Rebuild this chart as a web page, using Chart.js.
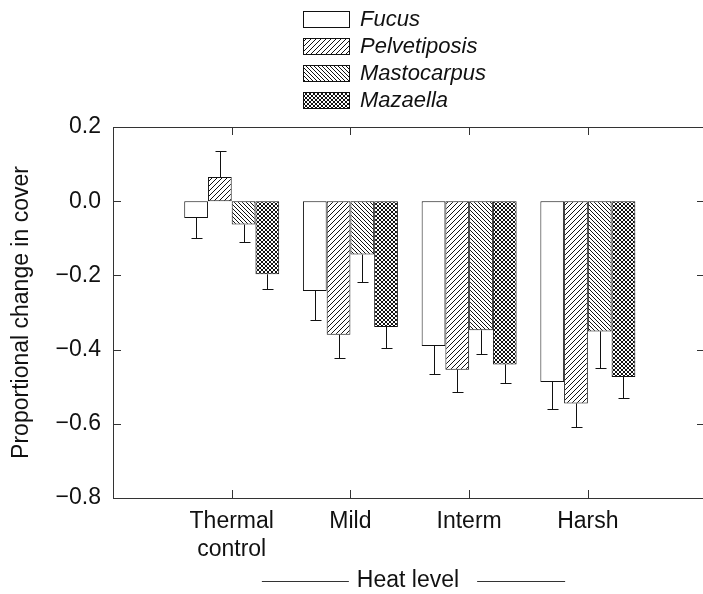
<!DOCTYPE html>
<html>
<head>
<meta charset="utf-8">
<script src="https://cdn.jsdelivr.net/npm/chart.js@4.4.1/dist/chart.umd.min.js"></script>
<style>
    html, body { margin: 0; padding: 0; background: #fff; }
    canvas { display: block; }
</style>
</head>
<body>
<canvas id="chart" width="703" height="594"></canvas>
<script>
// heat levels along the x axis
const heatLevels = [["Thermal", "control"], "Mild", "Interm", "Harsh"];
const species = ["Fucus", "Pelvetiposis", "Mastocarpus", "Mazaella"];

// proportional change in cover
const fucus        = [-0.045, -0.242, -0.390, -0.487];
const pelvetiposis = [ 0.065, -0.360, -0.454, -0.545];
const mastocarpus  = [-0.063, -0.144, -0.348, -0.351];
const mazaella     = [-0.197, -0.339, -0.440, -0.474];

// one sided error bars
const fucusErr        = [0.055, 0.079, 0.076, 0.074];
const pelvetiposisErr = [0.071, 0.062, 0.061, 0.063];
const mastocarpusErr  = [0.046, 0.074, 0.063, 0.098];
const mazaellaErr     = [0.041, 0.058, 0.049, 0.056];

const yTicks = [-0.8, -0.6, -0.4, -0.2, 0.0, 0.2];

const canvas = document.getElementById("chart");
const ctx = canvas.getContext("2d");
const ink = "#111";
const font = { family: "'Liberation Sans', Arial, sans-serif", size: 23 };

function hatch(kind, size) {
    const c = document.createElement("canvas");
    c.width = size;
    c.height = size;
    const g = c.getContext("2d");
    g.fillStyle = "#fff";
    g.fillRect(0, 0, size, size);
    g.strokeStyle = ink;
    g.lineWidth = 1;
    g.beginPath();
    if (kind == "/" || kind == "x") {
        g.moveTo(-1, size + 1); g.lineTo(size + 1, -1);
        g.moveTo(-1, 1); g.lineTo(1, -1);
        g.moveTo(size - 1, size + 1); g.lineTo(size + 1, size - 1);
    }
    if (kind == "\\" || kind == "x") {
        g.moveTo(-1, -1); g.lineTo(size + 1, size + 1);
        g.moveTo(size - 1, -1); g.lineTo(size + 1, 1);
        g.moveTo(-1, size - 1); g.lineTo(1, size + 1);
    }
    g.stroke();
    return ctx.createPattern(c, "repeat");
}

const values = [fucus, pelvetiposis, mastocarpus, mazaella];
const errors = [fucusErr, pelvetiposisErr, mastocarpusErr, mazaellaErr];
const fills = ["#fff", hatch("/", 5), hatch("\\", 4), hatch("x", 4)];

function fmt(v) {
    if (Math.abs(v) < 1e-9) return "0.0";
    return (v < 0 ? "\u2212" : "") + Math.abs(v).toFixed(1);
}

// box round the plot with inward ticks on every side
const framePlugin = {
    id: "frame",
    afterDraw(chart) {
        const { left, right, top, bottom } = chart.chartArea;
        const c = chart.ctx;
        const x = chart.scales.x, y = chart.scales.y;
        c.save();
        c.strokeStyle = "#333";
        c.lineWidth = 1;
        c.strokeRect(left + 0.5, top + 0.5, right - left, bottom - top);
        c.beginPath();
        yTicks.slice(1, -1).forEach(v => {
            const py = Math.round(y.getPixelForValue(v)) + 0.5;
            c.moveTo(left, py); c.lineTo(left + 8, py);
            c.moveTo(right, py); c.lineTo(right - 6, py);
        });
        heatLevels.forEach((_, i) => {
            const px = Math.round(x.getPixelForValue(i + 1)) + 0.5;
            c.moveTo(px, top); c.lineTo(px, top + 8);
            c.moveTo(px, bottom); c.lineTo(px, bottom - 8);
        });
        c.stroke();

        // lines either side of the x title
        c.font = "23px " + font.family;
        const w = c.measureText("Heat level").width;
        const cx = (left + right) / 2 + 4;
        const ly = 581.5;
        c.beginPath();
        c.moveTo(cx - w / 2 - 99, ly); c.lineTo(cx - w / 2 - 12, ly);
        c.moveTo(cx + w / 2 + 14, ly); c.lineTo(cx + w / 2 + 102, ly);
        c.stroke();
        c.restore();
    }
};

const errorPlugin = {
    id: "errors",
    afterDatasetsDraw(chart) {
        const c = chart.ctx;
        const y = chart.scales.y;
        c.save();
        c.strokeStyle = ink;
        c.lineWidth = 1;
        c.beginPath();
        chart.data.datasets.forEach((ds, k) => {
            chart.getDatasetMeta(k).data.forEach((bar, i) => {
                const v = ds.data[i].y;
                const end = v < 0 ? v - ds.errors[i] : v + ds.errors[i];
                const px = Math.round(bar.x) + 0.5;
                const py = Math.round(y.getPixelForValue(end)) + 0.5;
                c.moveTo(px, bar.y); c.lineTo(px, py);
                c.moveTo(px - 5, py); c.lineTo(px + 6, py);
            });
        });
        c.stroke();
        c.restore();
    }
};

const legendPlugin = {
    id: "boxLegend",
    afterDraw(chart) {
        const c = chart.ctx;
        c.save();
        chart.data.datasets.forEach((ds, k) => {
            const top = 11 + k * 27;
            c.fillStyle = ds.backgroundColor;
            c.fillRect(303, top, 46, 16);
            c.strokeStyle = ink;
            c.lineWidth = 1;
            c.strokeRect(303.5, top + 0.5, 46, 16);
            c.fillStyle = ink;
            c.font = "italic 22px " + font.family;
            c.textBaseline = "middle";
            c.fillText(ds.label, 360, top + 9);
        });
        c.restore();
    }
};

new Chart(canvas, {
    type: "bar",
    data: {
        datasets: species.map((name, k) => ({
            label: name,
            data: values[k].map((v, i) => ({ x: i + 1, y: v })),
            errors: errors[k],
            backgroundColor: fills[k],
            borderColor: ink,
            borderWidth: 1,
            borderSkipped: false,
            categoryPercentage: 0.8,
            barPercentage: 1
        }))
    },
    options: {
        responsive: false,
        animation: false,
        devicePixelRatio: 1,
        layout: { padding: { top: 127, right: 0, bottom: 0, left: 0 } },
        plugins: {
            legend: { display: false },
            tooltip: { enabled: false }
        },
        scales: {
            x: {
                type: "linear",
                min: 0,
                max: 4.97,
                offset: false,
                grid: { display: false, drawTicks: false, offset: false },
                border: { display: false },
                afterBuildTicks: scale => { scale.ticks = heatLevels.map((_, i) => ({ value: i + 1 })); },
                afterFit: scale => { scale.height = 96; },
                ticks: {
                    callback: v => heatLevels[v - 1],
                    font: font,
                    color: ink,
                    padding: 10,
                    maxRotation: 0,
                    autoSkip: false
                },
                title: {
                    display: true,
                    text: "Heat level",
                    font: font,
                    color: ink,
                    padding: { top: 0, bottom: 0 }
                }
            },
            y: {
                min: -0.8,
                max: 0.2,
                grid: { display: false, drawTicks: false },
                border: { display: false },
                afterBuildTicks: scale => { scale.ticks = yTicks.map(v => ({ value: v })); },
                afterFit: scale => { scale.width = 113; },
                ticks: {
                    callback: v => fmt(v),
                    font: font,
                    color: ink,
                    padding: 12
                },
                title: {
                    display: true,
                    text: "Proportional change in cover",
                    font: font,
                    color: ink,
                    padding: { top: 8, bottom: 0 }
                }
            }
        }
    },
    plugins: [errorPlugin, framePlugin, legendPlugin]
});
</script>
</body>
</html>
